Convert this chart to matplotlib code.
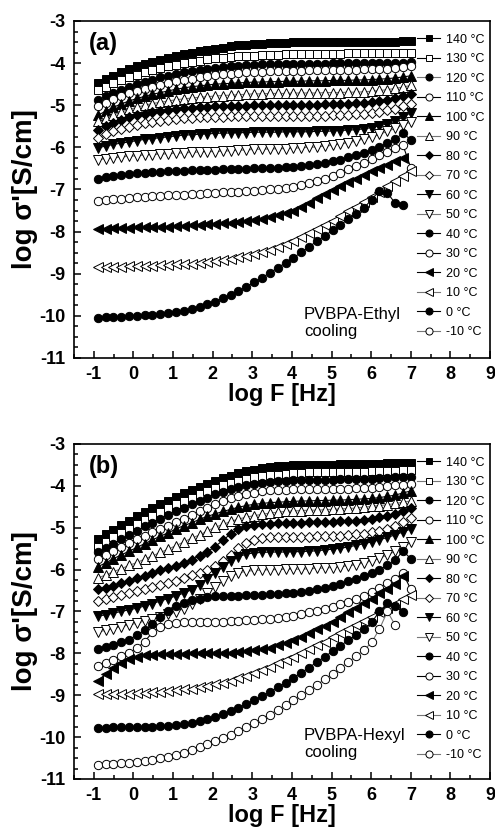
import matplotlib
matplotlib.use('Agg')
import matplotlib.pyplot as plt
from matplotlib.ticker import MultipleLocator

plt.rcParams['font.family'] = ['Liberation Sans', 'DejaVu Sans']
plt.rcParams['axes.unicode_minus'] = False

# log frequency grid (Hz), 41 points
log_f = [-0.90, -0.70, -0.51, -0.31, -0.11, 0.09, 0.28, 0.48, 0.68, 0.88,
         1.07, 1.27, 1.47, 1.67, 1.86, 2.06, 2.26, 2.46, 2.65, 2.85,
         3.05, 3.25, 3.44, 3.64, 3.84, 4.04, 4.24, 4.43, 4.63, 4.83,
         5.03, 5.22, 5.42, 5.62, 5.82, 6.01, 6.21, 6.41, 6.61, 6.80,
         7.00]

temps = ['140', '130', '120', '110', '100', '90', '80', '70',
         '60', '50', '40', '30', '20', '10', '0', '-10']

# ---- panel (a): PVBPA-Ethyl ----
ethyl_140 = [-4.47, -4.38, -4.30, -4.22, -4.15, -4.08, -4.02, -3.97, -3.92, -3.87,
             -3.83, -3.79, -3.75, -3.72, -3.69, -3.66, -3.63, -3.60, -3.58, -3.56,
             -3.55, -3.54, -3.53, -3.52, -3.52, -3.51, -3.51, -3.51, -3.50, -3.50,
             -3.50, -3.50, -3.50, -3.50, -3.49, -3.49, -3.49, -3.49, -3.49, -3.48,
             -3.48]
ethyl_130 = [-4.64, -4.56, -4.48, -4.41, -4.34, -4.28, -4.22, -4.17, -4.12, -4.08,
             -4.04, -4.00, -3.97, -3.94, -3.91, -3.89, -3.87, -3.85, -3.84, -3.83,
             -3.82, -3.81, -3.80, -3.80, -3.79, -3.79, -3.79, -3.78, -3.78, -3.78,
             -3.78, -3.78, -3.77, -3.77, -3.77, -3.77, -3.77, -3.76, -3.76, -3.76,
             -3.75]
ethyl_120 = [-4.88, -4.79, -4.71, -4.63, -4.56, -4.50, -4.44, -4.39, -4.34, -4.30,
             -4.26, -4.22, -4.19, -4.16, -4.13, -4.11, -4.09, -4.07, -4.06, -4.05,
             -4.04, -4.03, -4.03, -4.02, -4.02, -4.02, -4.01, -4.01, -4.01, -4.01,
             -4.00, -4.00, -4.00, -4.00, -4.00, -4.00, -3.99, -3.99, -3.99, -3.99,
             -3.98]
ethyl_110 = [-5.02, -4.94, -4.86, -4.79, -4.72, -4.66, -4.61, -4.56, -4.51, -4.47,
             -4.43, -4.40, -4.37, -4.34, -4.31, -4.29, -4.27, -4.25, -4.23, -4.22,
             -4.21, -4.20, -4.19, -4.19, -4.18, -4.18, -4.18, -4.17, -4.17, -4.17,
             -4.17, -4.16, -4.16, -4.16, -4.15, -4.15, -4.14, -4.13, -4.12, -4.10,
             -4.08]
ethyl_100 = [-5.24, -5.14, -5.05, -4.97, -4.90, -4.84, -4.79, -4.74, -4.70, -4.66,
             -4.62, -4.59, -4.56, -4.54, -4.52, -4.50, -4.49, -4.48, -4.47, -4.46,
             -4.45, -4.45, -4.44, -4.44, -4.43, -4.43, -4.43, -4.42, -4.42, -4.42,
             -4.41, -4.41, -4.41, -4.40, -4.40, -4.39, -4.38, -4.37, -4.35, -4.33,
             -4.30]
ethyl_90 = [-5.38, -5.30, -5.23, -5.16, -5.10, -5.05, -5.00, -4.96, -4.93, -4.90,
            -4.87, -4.85, -4.83, -4.81, -4.80, -4.78, -4.77, -4.76, -4.75, -4.74,
            -4.73, -4.73, -4.72, -4.72, -4.72, -4.71, -4.71, -4.71, -4.71, -4.70,
            -4.70, -4.70, -4.69, -4.69, -4.68, -4.67, -4.65, -4.63, -4.60, -4.57,
            -4.53]
ethyl_80 = [-5.59, -5.50, -5.42, -5.35, -5.29, -5.24, -5.20, -5.16, -5.13, -5.11,
            -5.09, -5.07, -5.06, -5.05, -5.04, -5.03, -5.02, -5.02, -5.01, -5.01,
            -5.00, -5.00, -5.00, -5.00, -5.00, -4.99, -4.99, -4.99, -4.99, -4.98,
            -4.98, -4.97, -4.96, -4.95, -4.94, -4.92, -4.90, -4.87, -4.83, -4.78,
            -4.73]
ethyl_70 = [-5.78, -5.69, -5.62, -5.56, -5.51, -5.47, -5.43, -5.40, -5.37, -5.35,
            -5.33, -5.31, -5.30, -5.29, -5.28, -5.27, -5.27, -5.26, -5.26, -5.26,
            -5.26, -5.26, -5.26, -5.26, -5.26, -5.26, -5.26, -5.25, -5.25, -5.25,
            -5.24, -5.24, -5.23, -5.22, -5.20, -5.18, -5.15, -5.12, -5.08, -5.02,
            -4.96]
ethyl_60 = [-6.01, -5.97, -5.93, -5.90, -5.87, -5.84, -5.81, -5.79, -5.77, -5.75,
            -5.73, -5.71, -5.70, -5.69, -5.68, -5.67, -5.66, -5.66, -5.65, -5.65,
            -5.64, -5.64, -5.64, -5.64, -5.63, -5.63, -5.63, -5.63, -5.62, -5.62,
            -5.61, -5.60, -5.59, -5.58, -5.56, -5.53, -5.49, -5.44, -5.38, -5.28,
            -5.18]
ethyl_50 = [-6.29, -6.27, -6.25, -6.23, -6.21, -6.20, -6.18, -6.17, -6.16, -6.15,
            -6.14, -6.13, -6.12, -6.11, -6.10, -6.10, -6.09, -6.08, -6.07, -6.06,
            -6.05, -6.04, -6.04, -6.03, -6.03, -6.02, -6.01, -6.00, -5.99, -5.97,
            -5.95, -5.92, -5.89, -5.85, -5.80, -5.75, -5.69, -5.62, -5.55, -5.47,
            -5.40]
ethyl_40 = [-6.74, -6.71, -6.68, -6.66, -6.64, -6.62, -6.60, -6.59, -6.58, -6.57,
            -6.56, -6.55, -6.54, -6.54, -6.53, -6.53, -6.52, -6.52, -6.51, -6.51,
            -6.50, -6.50, -6.49, -6.48, -6.47, -6.46, -6.44, -6.42, -6.40, -6.37,
            -6.33, -6.29, -6.24, -6.19, -6.13, -6.06, -5.99, -5.90, -5.81, -5.66,
            -5.82]
ethyl_30 = [-7.27, -7.25, -7.23, -7.22, -7.20, -7.19, -7.17, -7.16, -7.15, -7.14,
            -7.13, -7.12, -7.11, -7.10, -7.09, -7.08, -7.07, -7.06, -7.05, -7.04,
            -7.03, -7.02, -7.00, -6.98, -6.96, -6.93, -6.89, -6.85, -6.80, -6.74,
            -6.67, -6.60, -6.52, -6.44, -6.36, -6.28, -6.19, -6.11, -6.02, -5.94,
            -6.48]
ethyl_20 = [-7.94, -7.93, -7.92, -7.92, -7.91, -7.90, -7.90, -7.89, -7.89, -7.88,
            -7.87, -7.86, -7.85, -7.84, -7.83, -7.82, -7.80, -7.79, -7.77, -7.75,
            -7.72, -7.69, -7.65, -7.61, -7.56, -7.50, -7.41, -7.31, -7.21, -7.11,
            -7.01, -6.92, -6.83, -6.74, -6.65, -6.57, -6.49, -6.41, -6.33, -6.25]
ethyl_10 = [-8.83, -8.83, -8.83, -8.83, -8.82, -8.82, -8.81, -8.81, -8.80, -8.79,
            -8.78, -8.77, -8.76, -8.74, -8.72, -8.70, -8.67, -8.64, -8.61, -8.57,
            -8.53, -8.48, -8.43, -8.37, -8.30, -8.22, -8.13, -8.04, -7.94, -7.84,
            -7.74, -7.63, -7.52, -7.41, -7.30, -7.17, -7.05, -6.92, -6.80, -6.67,
            -6.55]
ethyl_0 = [-10.04, -10.03, -10.02, -10.02, -10.01, -10.00, -9.99, -9.98, -9.96, -9.94,
           -9.91, -9.88, -9.84, -9.79, -9.73, -9.66, -9.58, -9.50, -9.41, -9.31,
           -9.20, -9.09, -8.98, -8.86, -8.74, -8.62, -8.49, -8.36, -8.23, -8.10,
           -7.97, -7.84, -7.71, -7.58, -7.44, -7.24, -7.03, -7.08, -7.33, -7.38]
ethyl_m10 = []  # not visible in the plot, legend entry only

# ---- panel (b): PVBPA-Hexyl ----
hexyl_140 = [-5.27, -5.16, -5.05, -4.94, -4.83, -4.72, -4.63, -4.54, -4.44, -4.35,
             -4.26, -4.18, -4.10, -4.02, -3.95, -3.88, -3.82, -3.76, -3.70, -3.65,
             -3.61, -3.58, -3.55, -3.53, -3.52, -3.51, -3.50, -3.50, -3.49, -3.49,
             -3.49, -3.48, -3.48, -3.48, -3.47, -3.47, -3.47, -3.46, -3.46, -3.46,
             -3.45]
hexyl_130 = [-5.45, -5.34, -5.23, -5.12, -5.02, -4.91, -4.82, -4.72, -4.63, -4.53,
             -4.44, -4.36, -4.28, -4.20, -4.12, -4.05, -3.99, -3.93, -3.88, -3.84,
             -3.80, -3.77, -3.75, -3.73, -3.71, -3.70, -3.69, -3.68, -3.68, -3.67,
             -3.67, -3.67, -3.66, -3.66, -3.66, -3.65, -3.65, -3.64, -3.64, -3.63,
             -3.63]
hexyl_120 = [-5.59, -5.48, -5.38, -5.28, -5.17, -5.07, -4.97, -4.88, -4.78, -4.69,
             -4.60, -4.52, -4.44, -4.36, -4.28, -4.20, -4.14, -4.08, -4.03, -3.99,
             -3.96, -3.93, -3.91, -3.89, -3.88, -3.87, -3.86, -3.86, -3.85, -3.85,
             -3.85, -3.84, -3.84, -3.84, -3.83, -3.83, -3.82, -3.81, -3.80, -3.79,
             -3.78]
hexyl_110 = [-5.74, -5.64, -5.55, -5.46, -5.36, -5.27, -5.19, -5.11, -5.03, -4.95,
             -4.87, -4.78, -4.70, -4.61, -4.53, -4.44, -4.37, -4.30, -4.24, -4.20,
             -4.16, -4.13, -4.11, -4.10, -4.09, -4.08, -4.08, -4.08, -4.08, -4.08,
             -4.08, -4.07, -4.07, -4.06, -4.05, -4.04, -4.03, -4.01, -3.99, -3.97,
             -3.95]
hexyl_100 = [-5.93, -5.84, -5.74, -5.65, -5.56, -5.47, -5.38, -5.29, -5.20, -5.12,
             -5.03, -4.95, -4.88, -4.80, -4.73, -4.67, -4.61, -4.56, -4.51, -4.47,
             -4.44, -4.42, -4.40, -4.39, -4.38, -4.37, -4.36, -4.36, -4.35, -4.35,
             -4.34, -4.34, -4.33, -4.32, -4.31, -4.30, -4.28, -4.25, -4.22, -4.17,
             -4.12]
hexyl_90 = [-6.20, -6.13, -6.05, -5.98, -5.90, -5.83, -5.75, -5.67, -5.59, -5.51,
            -5.43, -5.34, -5.25, -5.17, -5.08, -4.99, -4.92, -4.85, -4.79, -4.75,
            -4.71, -4.68, -4.65, -4.63, -4.61, -4.60, -4.59, -4.58, -4.58, -4.57,
            -4.56, -4.55, -4.54, -4.53, -4.51, -4.49, -4.47, -4.45, -4.42, -4.39,
            -4.36]
hexyl_80 = [-6.47, -6.43, -6.39, -6.33, -6.27, -6.21, -6.15, -6.09, -6.02, -5.97,
            -5.91, -5.84, -5.76, -5.67, -5.58, -5.45, -5.30, -5.14, -5.04, -4.97,
            -4.93, -4.91, -4.90, -4.89, -4.88, -4.88, -4.88, -4.87, -4.87, -4.87,
            -4.86, -4.85, -4.84, -4.83, -4.81, -4.78, -4.75, -4.71, -4.66, -4.60,
            -4.54]
hexyl_70 = [-6.75, -6.71, -6.66, -6.61, -6.56, -6.51, -6.46, -6.41, -6.36, -6.31,
            -6.26, -6.20, -6.14, -6.07, -6.00, -5.92, -5.80, -5.64, -5.49, -5.37,
            -5.29, -5.25, -5.23, -5.22, -5.21, -5.21, -5.21, -5.21, -5.20, -5.20,
            -5.20, -5.19, -5.18, -5.16, -5.14, -5.11, -5.07, -5.02, -4.95, -4.86,
            -4.77]
hexyl_60 = [-7.11, -7.08, -7.04, -7.00, -6.96, -6.92, -6.87, -6.81, -6.75, -6.69,
            -6.63, -6.56, -6.48, -6.36, -6.22, -6.08, -5.93, -5.79, -5.69, -5.63,
            -5.60, -5.59, -5.58, -5.58, -5.58, -5.57, -5.57, -5.56, -5.55, -5.53,
            -5.51, -5.49, -5.46, -5.42, -5.38, -5.34, -5.29, -5.23, -5.17, -5.10,
            -5.03]
hexyl_50 = [-7.49, -7.45, -7.41, -7.36, -7.32, -7.28, -7.23, -7.18, -7.12, -7.07,
            -7.01, -6.93, -6.83, -6.70, -6.56, -6.42, -6.27, -6.15, -6.08, -6.04,
            -6.02, -6.01, -6.00, -6.00, -5.99, -5.99, -5.99, -5.98, -5.97, -5.96,
            -5.95, -5.93, -5.91, -5.88, -5.84, -5.79, -5.73, -5.65, -5.56, -5.46,
            -5.35]
hexyl_40 = [-7.90, -7.85, -7.80, -7.74, -7.67, -7.56, -7.45, -7.30, -7.14, -6.98,
            -6.87, -6.79, -6.73, -6.69, -6.66, -6.64, -6.63, -6.62, -6.62, -6.61,
            -6.60, -6.60, -6.59, -6.58, -6.57, -6.55, -6.53, -6.50, -6.47, -6.43,
            -6.39, -6.34, -6.28, -6.22, -6.15, -6.08, -6.00, -5.90, -5.78, -5.55,
            -5.74]
hexyl_30 = [-8.29, -8.22, -8.15, -8.07, -7.98, -7.88, -7.72, -7.50, -7.36, -7.30,
            -7.27, -7.26, -7.25, -7.25, -7.25, -7.24, -7.24, -7.23, -7.22, -7.21,
            -7.20, -7.19, -7.17, -7.15, -7.12, -7.10, -7.06, -7.02, -6.98, -6.94,
            -6.89, -6.83, -6.77, -6.70, -6.62, -6.53, -6.43, -6.33, -6.22, -6.08,
            -6.47]
hexyl_20 = [-8.65, -8.50, -8.36, -8.24, -8.14, -8.08, -8.05, -8.03, -8.02, -8.01,
            -8.01, -8.01, -8.00, -8.00, -8.00, -8.00, -7.99, -7.98, -7.97, -7.95,
            -7.93, -7.90, -7.86, -7.81, -7.75, -7.68, -7.60, -7.52, -7.43, -7.34,
            -7.24, -7.13, -7.02, -6.91, -6.80, -6.69, -6.57, -6.46, -6.34, -6.16]
hexyl_10 = [-8.98, -8.97, -8.97, -8.96, -8.96, -8.95, -8.94, -8.93, -8.92, -8.90,
            -8.88, -8.86, -8.84, -8.81, -8.78, -8.74, -8.70, -8.65, -8.59, -8.53,
            -8.46, -8.39, -8.32, -8.24, -8.16, -8.08, -7.99, -7.90, -7.81, -7.72,
            -7.62, -7.52, -7.42, -7.32, -7.22, -7.12, -7.02, -6.92, -6.82, -6.71,
            -6.60]
hexyl_0 = [-9.78, -9.78, -9.77, -9.77, -9.77, -9.76, -9.76, -9.75, -9.74, -9.73,
           -9.71, -9.69, -9.66, -9.62, -9.57, -9.52, -9.45, -9.38, -9.30, -9.21,
           -9.12, -9.02, -8.92, -8.81, -8.70, -8.58, -8.46, -8.34, -8.21, -8.08,
           -7.95, -7.82, -7.69, -7.56, -7.43, -7.26, -7.00, -6.80, -6.87, -7.02]
hexyl_m10 = [-10.66, -10.65, -10.64, -10.63, -10.62, -10.60, -10.58, -10.55, -10.51, -10.47,
             -10.42, -10.37, -10.31, -10.24, -10.17, -10.10, -10.02, -9.94, -9.85, -9.76,
             -9.66, -9.56, -9.46, -9.35, -9.24, -9.12, -9.00, -8.88, -8.75, -8.62,
             -8.49, -8.35, -8.21, -8.07, -7.92, -7.74, -7.42, -7.00, -7.33]

ethyl = [ethyl_140, ethyl_130, ethyl_120, ethyl_110, ethyl_100, ethyl_90, ethyl_80, ethyl_70,
         ethyl_60, ethyl_50, ethyl_40, ethyl_30, ethyl_20, ethyl_10, ethyl_0, ethyl_m10]
hexyl = [hexyl_140, hexyl_130, hexyl_120, hexyl_110, hexyl_100, hexyl_90, hexyl_80, hexyl_70,
         hexyl_60, hexyl_50, hexyl_40, hexyl_30, hexyl_20, hexyl_10, hexyl_0, hexyl_m10]

# marker style per temperature (filled / open pairs like the Origin defaults)
markers = ['s', 's', 'o', 'o', '^', '^', 'D', 'D', 'v', 'v', 'o', 'o', '<', '<', 'o', 'o']
filled = [True, False] * 8
msizes = [5.5, 5.5, 6, 6, 6.5, 6.5, 5, 5, 6.5, 6.5, 6, 6, 6.5, 6.5, 6, 6]
grey_a = ['120', '90', '70', '50', '10', '-10']
grey_b = ['130', '90', '70', '50', '10', '-10']


def draw_panel(ax, data, grey, tag, name):
    for i, t in enumerate(temps):
        y = data[i]
        x = log_f[:len(y)]
        lc = '#777777' if t in grey else 'black'
        ax.plot(x, y, color=lc, lw=0.8, marker=markers[i], ms=msizes[i],
                mfc='black' if filled[i] else 'white', mec='black', mew=0.7,
                label=t + ' \u00b0C')
    ax.set_xlim(-1.5, 9)
    ax.set_ylim(-11, -3)
    ax.xaxis.set_major_locator(MultipleLocator(1))
    ax.xaxis.set_minor_locator(MultipleLocator(0.5))
    ax.yaxis.set_major_locator(MultipleLocator(1))
    ax.yaxis.set_minor_locator(MultipleLocator(0.25))
    ax.tick_params(which='both', direction='in', top=False, right=False, width=1.1)
    ax.tick_params(which='major', length=5, labelsize=13, pad=6)
    ax.tick_params(which='minor', length=3)
    for lab in ax.get_xticklabels() + ax.get_yticklabels():
        lab.set_fontweight('bold')
    for s in ax.spines.values():
        s.set_linewidth(1.2)
    ax.set_xlabel('log F [Hz]', fontsize=17, fontweight='bold', labelpad=0)
    ax.set_ylabel("log \u03c3'[S/cm]", fontsize=20, fontweight='bold', labelpad=1)
    ax.text(-1.12, -3.53, tag, fontsize=17, fontweight='bold', ha='left', va='center')
    ax.text(4.3, -10.17, name + '\ncooling', fontsize=12, ha='left', va='center',
            linespacing=1.15)
    ax.legend(loc='upper left', bbox_to_anchor=(0.8245, 0.962), frameon=False,
              fontsize=9, borderpad=0, borderaxespad=0, handlelength=1.85,
              handletextpad=0.45, labelspacing=0.6, markerscale=0.85)


fig = plt.figure(figsize=(4.95, 8.36), dpi=100)
ax_a = fig.add_axes([0.1495, 0.5718, 0.8404, 0.4031])
ax_b = fig.add_axes([0.1495, 0.0682, 0.8404, 0.4007])
draw_panel(ax_a, ethyl, grey_a, '(a)', 'PVBPA-Ethyl')
draw_panel(ax_b, hexyl, grey_b, '(b)', 'PVBPA-Hexyl')

fig.savefig('out.png', dpi=100)
